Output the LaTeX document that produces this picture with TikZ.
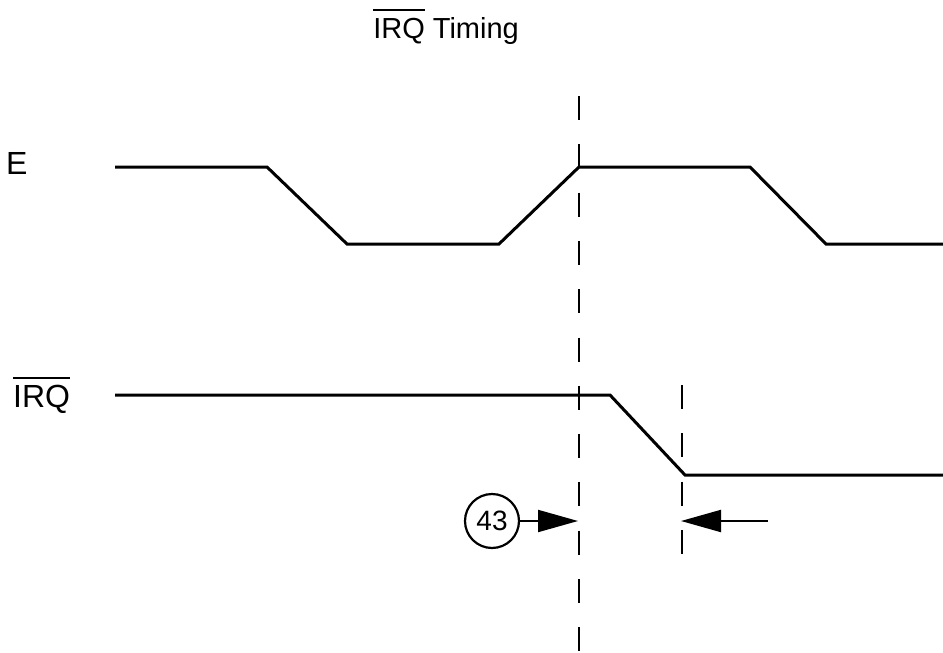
\documentclass[tikz,border=0pt]{standalone}
\usepackage{fontspec}
\setmainfont{Liberation Sans}
\usetikzlibrary{arrows.meta}
\newcommand\ovbar[2][6pt]{\sbox0{#2}\makebox[0pt][l]{\rule[\dimexpr\ht0+#1\relax]{\wd0}{2pt}}\usebox0}
\begin{document}
\begin{tikzpicture}[x=1pt,y=-1pt,
  wave/.style={line width=3pt, line join=miter},
  guide/.style={line width=1.4pt, dash pattern=on 24pt off 24.3pt},
  lbl/.style={inner sep=0pt, font=\fontsize{32}{36}\selectfont},
  ttl/.style={inner sep=0pt, font=\fontsize{29}{34}\selectfont},
  marker/.style={draw, circle, line width=2.2pt, minimum size=54pt, inner sep=0pt, font=\fontsize{28}{32}\selectfont},
  dimarrow/.style={line width=2pt, -{Triangle[length=40pt,width=22pt]}}
]
\useasboundingbox[fill=white] (0,0) rectangle (943,653);

\node[ttl, anchor=base east] (title) at (519,38) {\ovbar[7pt]{IRQ} Timing};
\node[lbl, anchor=base west] (lE) at (6,174) {E};
\node[lbl, anchor=base west] (lIRQ) at (13,407) {\ovbar{IRQ}};

\draw[wave] (115,167) -- (267,167) -- (347,244) -- (499,244) -- (579,167) -- (750,167) -- (826,244) -- (943,244);
\draw[wave] (115,395) -- (610,395) -- (685,475) -- (943,475);

\coordinate (g1top) at (579,96);
\coordinate (g1bot) at (579,653);
\draw[guide] (g1top) -- (g1bot);
\coordinate (g2top) at (682,385);
\coordinate (g2bot) at (682,554);
\draw[guide] (g2top) -- (g2bot);

\node[marker] (n43) at (492,521) {43};
\coordinate (tip1) at (578,521);
\draw[dimarrow] (n43.east) -- (tip1);
\coordinate (tail2) at (768,521);
\coordinate (tip2) at (681,521);
\draw[dimarrow] (tail2) -- (tip2);
\end{tikzpicture}
\end{document}
